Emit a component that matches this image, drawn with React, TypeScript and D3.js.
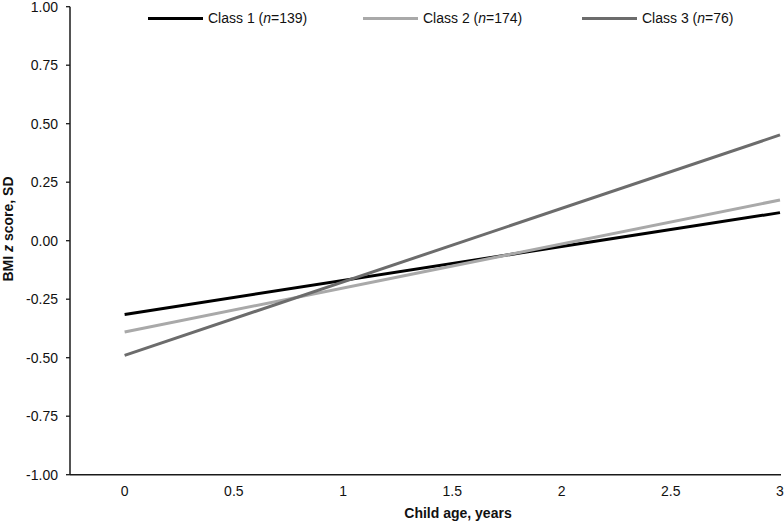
import * as d3 from "d3";

// data: fitted BMI z score trajectories per latent class
const ages = [0, 3];
const class1 = [-0.315, 0.12];
const class2 = [-0.39, 0.174];
const class3 = [-0.49, 0.452];
const seriesNames = ["Class 1", "Class 2", "Class 3"];
const seriesN = [139, 174, 76];
const seriesColors = ["#000000", "#a9a9a9", "#6c6c6c"];
const xTicks = [0, 0.5, 1, 1.5, 2, 2.5, 3];
const yTicks = [1, 0.75, 0.5, 0.25, 0, -0.25, -0.5, -0.75, -1];

const W = 784;
const H = 523;
const FONT = "'Liberation Sans', Arial, sans-serif";

const App = () => {
  const x = d3.scaleLinear().domain([-0.25, 3]).range([70, 780]);
  const y = d3.scaleLinear().domain([-1, 1]).range([474.7, 6.7]);

  const line = d3
    .line<number>()
    .x((_, i) => x(ages[i]))
    .y((d) => y(d));

  const series = [class1, class2, class3];

  // legend slots (line start x)
  const legendX = [148, 363, 582];
  const legendY = 18.5;

  return (
    <svg
      width={W}
      height={H}
      style={{ position: "absolute", left: 0, top: 0, background: "#fff" }}
      fontFamily={FONT}
    >
      {/* y axis */}
      <line x1={x(-0.25)} x2={x(-0.25)} y1={y(1)} y2={y(-1)} stroke="#1a1a1a" strokeWidth={1.5} />
      {yTicks.map((t) => (
        <g key={t}>
          <line x1={66} x2={70} y1={y(t)} y2={y(t)} stroke="#1a1a1a" strokeWidth={1.3} />
          <text x={58} y={y(t)} dy="0.35em" textAnchor="end" fontSize={14} fill="#111">
            {t.toFixed(2)}
          </text>
        </g>
      ))}
      <text
        transform={`translate(13,229) rotate(-90)`}
        textAnchor="middle"
        fontSize={14}
        fontWeight="bold"
        fill="#111"
      >
        BMI <tspan fontStyle="italic">z</tspan> score, SD
      </text>

      {/* x axis */}
      <line x1={x(-0.25)} x2={781} y1={y(-1)} y2={y(-1)} stroke="#1a1a1a" strokeWidth={1.5} />
      {xTicks.map((t) => (
        <text key={t} x={x(t)} y={496} textAnchor="middle" fontSize={14} fill="#111">
          {t}
        </text>
      ))}
      <text x={458} y={518} textAnchor="middle" fontSize={14} fontWeight="bold" fill="#111">
        Child age, years
      </text>

      {/* lines */}
      {series.map((s, i) => (
        <path key={i} d={line(s) || ""} fill="none" stroke={seriesColors[i]} strokeWidth={3} />
      ))}

      {/* legend */}
      {seriesNames.map((name, i) => (
        <g key={name}>
          <line
            x1={legendX[i]}
            x2={legendX[i] + 55}
            y1={legendY}
            y2={legendY}
            stroke={seriesColors[i]}
            strokeWidth={3}
          />
          <text x={legendX[i] + 60} y={legendY} dy="0.35em" fontSize={14} fill="#111">
            {name} (<tspan fontStyle="italic">n</tspan>={seriesN[i]})
          </text>
        </g>
      ))}
    </svg>
  );
};

export default App;
